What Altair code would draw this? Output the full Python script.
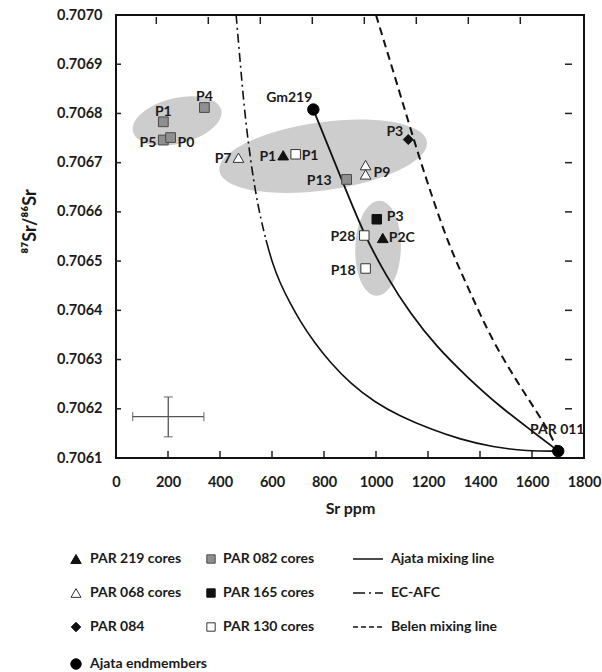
import altair as alt
import pandas as pd

# ---------------- data ----------------
par219_sr = [643, 1026]
par219_ratio = [0.706715, 0.706547]
par219_lab = ["P1", "P2C"]

par068_sr = [471, 960, 960]
par068_ratio = [0.706710, 0.706695, 0.706676]
par068_lab = ["P7", "", "P9"]

par084_sr = [1124]
par084_ratio = [0.706747]
par084_lab = ["P3"]

ajata_sr = [759, 1701]
ajata_ratio = [0.706808, 0.706114]
ajata_lab = ["Gm219", "PAR 011"]

par082_sr = [182, 340, 182, 210, 887]
par082_ratio = [0.706783, 0.706812, 0.706746, 0.706751, 0.706666]
par082_lab = ["P1", "P4", "P5", "P0", "P13"]

par165_sr = [1003]
par165_ratio = [0.706585]
par165_lab = ["P3"]

par130_sr = [691, 955, 960]
par130_ratio = [0.706717, 0.706552, 0.706485]
par130_lab = ["P1", "P28", "P18"]

ajata_line_sr = [759, 874, 951, 1041, 1131, 1233, 1349, 1477, 1605, 1701]
ajata_line_ratio = [0.706808, 0.706658, 0.706557, 0.706468, 0.706394,
                    0.706326, 0.706265, 0.706204, 0.706153, 0.706114]

ecafc_sr = [462, 477, 492, 512, 535, 558, 577]
ecafc_ratio = [0.707000, 0.706909, 0.706817, 0.706726, 0.706644, 0.706583, 0.706543]
ecafc_tail_sr = [577, 600, 631, 669, 708, 765, 823, 900, 996, 1092, 1208, 1323, 1450, 1581, 1700]
ecafc_tail_ratio = [0.706543, 0.706498, 0.706455, 0.706415, 0.706378, 0.706333, 0.706295,
                    0.706252, 0.706213, 0.706185, 0.706159, 0.706138, 0.706122, 0.706114,
                    0.706114]

belen_sr = [1000, 1092, 1157, 1220, 1285, 1362, 1451, 1580, 1657, 1701]
belen_ratio = [0.707000, 0.706841, 0.706726, 0.706624, 0.706526,
               0.706437, 0.706333, 0.706224, 0.706163, 0.706114]

ellipse_sr = [235, 797, 1008]
ellipse_ratio = [0.706785, 0.706713, 0.706526]

err_sr = [201]
err_sr_lo = [64]
err_sr_hi = [338]
err_ratio = [0.706184]
err_ratio_lo = [0.706143]
err_ratio_hi = [0.706224]

x_ticks = [0, 200, 400, 600, 800, 1000, 1200, 1400, 1600, 1800]
top_ticks = [155, 355, 555, 755, 955, 1155, 1355, 1555]
y_ticks = [0.7061, 0.7062, 0.7063, 0.7064, 0.7065, 0.7066, 0.7067, 0.7068, 0.7069, 0.7070]

legend_rows = [
    ["PAR 219 cores", "PAR 082 cores", "Ajata mixing line"],
    ["PAR 068 cores", "PAR 165 cores", "EC-AFC"],
    ["PAR 084", "PAR 130 cores", "Belen mixing line"],
    ["Ajata endmembers"],
]

# ---------------- styling / layout ----------------
W, H = 468, 443
FONT = "Lato"
TXT = "#1a1a1a"

xs = alt.Scale(domain=[0, 1800], nice=False, zero=False)
ys = alt.Scale(domain=[0.7061, 0.7070], nice=False, zero=False)

x_axis = alt.Axis(values=x_ticks, format="d", title="Sr ppm", labelFont=FONT, labelFontWeight="bold",
                  labelFontSize=14.5, labelColor=TXT, labelPadding=17, labelOverlap=False,
                  labelFlush=False, ticks=False, domain=False,
                  grid=False, titleFont=FONT, titleFontSize=16, titleFontWeight="bold",
                  titleColor=TXT, titlePadding=12)
y_axis = alt.Axis(values=y_ticks, format=".4f", title="⁸⁷Sr/⁸⁶Sr", labelFont=FONT,
                  labelFontWeight="bold", labelFontSize=14.5, labelColor=TXT, labelPadding=14,
                  labelOverlap=False, labelFlush=False,
                  ticks=False, domain=False, grid=False, titleFont=FONT, titleFontSize=18,
                  titleFontWeight="bold", titleColor=TXT, titleAngle=270, titleX=-86, titleY=206,
                  titleAlign="center", titleBaseline="middle")


def X(f="sr"):
    return alt.X(f"{f}:Q", scale=xs, axis=x_axis)


def Y(f="ratio"):
    return alt.Y(f"{f}:Q", scale=ys, axis=y_axis)


styles = {
    "par219": ("triangle-up", "#111111", "#111111", 115),
    "par068": ("triangle-up", "white", "#333333", 115),
    "par084": ("diamond", "#111111", "#111111", 100),
    "ajata": ("circle", "#000000", "#000000", 130),
    "par082": ("square", "#8f8f8f", "#4a4a4a", 95),
    "par165": ("square", "#111111", "#111111", 90),
    "par130": ("square", "white", "#333333", 90),
}
leg_sizes = {"par219": 110, "par068": 100, "par084": 90, "ajata": 110,
             "par082": 70, "par165": 70, "par130": 70}

series = {
    "par219": (par219_sr, par219_ratio, par219_lab),
    "par068": (par068_sr, par068_ratio, par068_lab),
    "par084": (par084_sr, par084_ratio, par084_lab),
    "ajata": (ajata_sr, ajata_ratio, ajata_lab),
    "par082": (par082_sr, par082_ratio, par082_lab),
    "par165": (par165_sr, par165_ratio, par165_lab),
    "par130": (par130_sr, par130_ratio, par130_lab),
}

# label placement (align, dx, dy) per series / point index
placement = {
    ("par082", 0): ("center", 0, -10), ("par082", 1): ("center", 0, -11),
    ("par082", 2): ("right", -7, 3), ("par082", 3): ("left", 7, 5),
    ("par082", 4): ("right", -15, 2),
    ("par068", 0): ("right", -7, 1), ("par068", 2): ("left", 8, -1),
    ("par219", 0): ("right", -7, 2), ("par219", 1): ("left", 6, 0),
    ("par130", 0): ("left", 6, 2), ("par130", 1): ("right", -9, 1),
    ("par130", 2): ("right", -10, 3),
    ("par165", 0): ("left", 10, -2),
    ("par084", 0): ("right", -5, -8),
    ("ajata", 0): ("right", -1, -12), ("ajata", 1): ("center", -1, -21),
}

# ellipse styles: (semi-major px, minor/major ratio, rotation deg)
ellipse_style = [(45.5, 0.50, 346), (104.8, 0.325, 352), (47.5, 0.48, 92)]


def ellipse_path(r):
    k = 0.5523
    return (f"M -1 0 C -1 {-k*r:.4f} {-k:.4f} {-r:.4f} 0 {-r:.4f} "
            f"C {k:.4f} {-r:.4f} 1 {-k*r:.4f} 1 0 "
            f"C 1 {k*r:.4f} {k:.4f} {r:.4f} 0 {r:.4f} "
            f"C {-k:.4f} {r:.4f} -1 {k*r:.4f} -1 0 Z")


layers = []

# gray ellipses
for i, (a, r, ang) in enumerate(ellipse_style):
    df = pd.DataFrame({"sr": [ellipse_sr[i]], "ratio": [ellipse_ratio[i]]})
    layers.append(alt.Chart(df).mark_point(shape=ellipse_path(r), size=4 * a * a, angle=ang,
                                           filled=True, fill="#cdcdcd", strokeWidth=0, opacity=1)
                  .encode(x=X(), y=Y()))

# inner tick marks
layers.append(alt.Chart(pd.DataFrame({"sr": x_ticks[1:-1]})).mark_rule(color="#222", strokeWidth=1.5)
              .encode(x=X(), y=alt.value(H), y2=alt.value(H - 7)))
layers.append(alt.Chart(pd.DataFrame({"sr": top_ticks})).mark_rule(color="#222", strokeWidth=1.5)
              .encode(x=X(), y=alt.value(2), y2=alt.value(9)))
layers.append(alt.Chart(pd.DataFrame({"ratio": y_ticks[1:-1]})).mark_rule(color="#222", strokeWidth=1.5)
              .encode(y=Y(), x=alt.value(0), x2=alt.value(5)))
layers.append(alt.Chart(pd.DataFrame({"ratio": y_ticks[1:-1]})).mark_rule(color="#222", strokeWidth=1.5)
              .encode(y=Y(), x=alt.value(449), x2=alt.value(456)))

# error cross
err_df = pd.DataFrame({"sr": err_sr, "lo": err_sr_lo, "hi": err_sr_hi,
                       "ratio": err_ratio, "rlo": err_ratio_lo, "rhi": err_ratio_hi})
ERR = "#555555"
layers.append(alt.Chart(err_df).mark_rule(color=ERR, strokeWidth=1.3)
              .encode(x=X("lo"), x2=alt.X2("hi"), y=Y()))
layers.append(alt.Chart(err_df).mark_rule(color=ERR, strokeWidth=1.3)
              .encode(x=X(), y=Y("rlo"), y2=alt.Y2("rhi")))
for f in ["lo", "hi"]:
    layers.append(alt.Chart(err_df).mark_tick(orient="vertical", size=9, thickness=1.3, color=ERR)
                  .encode(x=X(f), y=Y()))
for f in ["rlo", "rhi"]:
    layers.append(alt.Chart(err_df).mark_tick(orient="horizontal", size=9, thickness=1.3, color=ERR)
                  .encode(x=X(), y=Y(f)))


def line_layer(sr, ratio, dash, width):
    df = pd.DataFrame({"sr": sr, "ratio": ratio, "o": list(range(len(sr)))})
    kw = dict(color="#111111", strokeWidth=width, clip=True, interpolate="basis")
    if dash:
        kw["strokeDash"] = dash
    return alt.Chart(df).mark_line(**kw).encode(x=X(), y=Y(), order="o:Q")


layers.append(line_layer(ecafc_sr, ecafc_ratio, [9, 4, 2, 4], 1.6))
layers.append(line_layer(ecafc_tail_sr, ecafc_tail_ratio, None, 1.6))
layers.append(line_layer(belen_sr, belen_ratio, [8, 5], 2.0))
layers.append(line_layer(ajata_line_sr, ajata_line_ratio, None, 1.8))

# data markers
for key, (sr, ratio, lab) in series.items():
    shp, fill, stroke, size = styles[key]
    df = pd.DataFrame({"sr": sr, "ratio": ratio})
    layers.append(alt.Chart(df).mark_point(shape=shp, filled=True, fill=fill, stroke=stroke,
                                           strokeWidth=1, size=size, opacity=1)
                  .encode(x=X(), y=Y()))

# point labels
for key, (sr, ratio, lab) in series.items():
    for i, t in enumerate(lab):
        if not t:
            continue
        al, dx, dy = placement[(key, i)]
        df = pd.DataFrame({"sr": [sr[i]], "ratio": [ratio[i]], "t": [t]})
        layers.append(alt.Chart(df).mark_text(align=al, baseline="middle", dx=dx, dy=dy,
                                              font=FONT, fontWeight="bold", fontSize=14, color=TXT)
                      .encode(x=X(), y=Y(), text="t:N"))

# ---------------- legend (below the plot) ----------------
leg_row_y = [544, 578, 612, 649]
leg_sym_x = [-40, 95]
leg_text_x = [-26, 107, 275]
leg_line_x = (237, 267)
leg_keys = [["par219", "par082"], ["par068", "par165"], ["par084", "par130"], ["ajata"]]
leg_lines = [None, [12, 4, 2, 4], [5, 3]]

LX = lambda f: alt.X(f"{f}:Q", scale=None, axis=None)
LY = lambda f: alt.Y(f"{f}:Q", scale=None, axis=None)

txt_rows = []
for r, row in enumerate(legend_rows):
    for c, t in enumerate(row):
        txt_rows.append({"lx": leg_text_x[c], "ly": leg_row_y[r], "t": t})
layers.append(alt.Chart(pd.DataFrame(txt_rows)).mark_text(align="left", baseline="middle",
                                                          font=FONT, fontWeight="bold",
                                                          fontSize=14, color=TXT)
              .encode(x=LX("lx"), y=LY("ly"), text="t:N"))

for r, keys in enumerate(leg_keys):
    for c, key in enumerate(keys):
        shp, fill, stroke, _ = styles[key]
        df = pd.DataFrame({"lx": [leg_sym_x[c]], "ly": [leg_row_y[r]]})
        layers.append(alt.Chart(df).mark_point(shape=shp, filled=True, fill=fill, stroke=stroke,
                                               strokeWidth=1, size=leg_sizes[key], opacity=1)
                      .encode(x=LX("lx"), y=LY("ly")))

for r, dash in enumerate(leg_lines):
    df = pd.DataFrame({"lx": [leg_line_x[0]], "lx2": [leg_line_x[1]], "ly": [leg_row_y[r]]})
    kw = dict(color="#111111", strokeWidth=1.5)
    if dash:
        kw["strokeDash"] = dash
    layers.append(alt.Chart(df).mark_rule(**kw)
                  .encode(x=LX("lx"), x2=alt.X2("lx2"), y=LY("ly")))

chart = (alt.layer(*layers)
         .properties(width=W, height=H,
                     autosize=alt.AutoSizeParams(type="none"),
                     padding={"left": 116, "top": 15, "right": 18, "bottom": 214},
                     background="white")
         .configure_view(stroke="#111111", strokeWidth=2))

chart.save("out.html", embed_options={"renderer": "svg", "actions": False})
